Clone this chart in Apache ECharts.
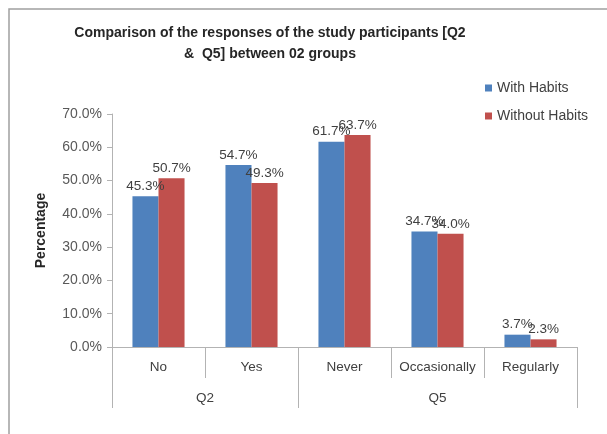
<!DOCTYPE html>
<html lang="en">
<head>
    <meta charset="UTF-8">
    <title>Comparison of responses</title>
    <style>
        html, body { margin: 0; padding: 0; background: #fff; }
    </style>
</head>
<body>
    <div id="main" style="width:607px; height:434px;"></div>
    <script src="https://cdn.jsdelivr.net/npm/echarts@6/dist/echarts.min.js"></script>
    <script>
        // categories and groups
        var categories = ['No', 'Yes', 'Never', 'Occasionally', 'Regularly'];
        var groupNames = ['Q2', 'Q5'];
        var groupSizes = [2, 3];
        // percentages
        var withHabits = [45.3, 54.7, 61.7, 34.7, 3.7];
        var withoutHabits = [50.7, 49.3, 63.7, 34.0, 2.3];
        var yTicks = [0, 10, 20, 30, 40, 50, 60, 70];

        // boundaries and centres of the groups on the 0..n scale
        var groupEdges = [0];
        var groupCentres = [];
        groupSizes.forEach(function (n, i) {
            var start = groupEdges[i];
            groupEdges.push(start + n);
            groupCentres.push(start + n / 2);
        });

        var font = 'Liberation Sans, Arial, sans-serif';
        var lineColor = '#b3b3b3';

        var myChart = echarts.init(document.getElementById('main'));
        myChart.setOption({
            animation: false,
            title: {
                text: 'Comparison of the responses of the study participants [Q2\n&  Q5] between 02 groups',
                left: 265,
                textAlign: 'center',
                top: 18,
                textStyle: {
                    fontFamily: font,
                    fontSize: 14,
                    fontWeight: 'bold',
                    color: '#262626',
                    lineHeight: 21
                }
            },
            legend: {
                orient: 'vertical',
                left: 480,
                top: 76,
                icon: 'rect',
                itemWidth: 7,
                itemHeight: 7,
                itemGap: 14,
                textStyle: { fontFamily: font, fontSize: 14, color: '#404040' },
                data: ['With Habits', 'Without Habits']
            },
            graphic: [{
                type: 'polyline',
                shape: { points: [[9, 440], [9, 9], [620, 9]] },
                style: { stroke: '#a0a0a0', lineWidth: 1.5, fill: null },
                silent: true
            }],
            grid: { left: 112, right: 30, top: 114, bottom: 87 },
            xAxis: [{
                type: 'category',
                data: categories,
                boundaryGap: true,
                axisLine: { lineStyle: { color: lineColor } },
                axisTick: { show: true, interval: 0, length: 31, lineStyle: { color: lineColor } },
                axisLabel: {
                    interval: 0, margin: 13,
                    fontFamily: font, fontSize: 13.5, color: '#404040'
                }
            }, {
                type: 'value',
                position: 'bottom',
                min: 0,
                max: categories.length,
                axisLine: { show: false },
                splitLine: { show: false },
                axisTick: {
                    show: true,
                    customValues: groupEdges,
                    length: 61,
                    lineStyle: { color: lineColor }
                },
                axisLabel: {
                    customValues: groupCentres,
                    margin: 44,
                    fontFamily: font, fontSize: 13.5, color: '#404040',
                    formatter: function (v) {
                        var i = groupCentres.indexOf(v);
                        return i >= 0 ? groupNames[i] : '';
                    }
                }
            }],
            yAxis: {
                type: 'value',
                min: yTicks[0],
                max: yTicks[yTicks.length - 1],
                interval: yTicks[1] - yTicks[0],
                name: 'Percentage',
                nameLocation: 'middle',
                nameGap: 64,
                nameTextStyle: { fontFamily: font, fontSize: 14, fontWeight: 'bold', color: '#262626' },
                axisLine: { show: true, lineStyle: { color: lineColor } },
                axisTick: { show: true, length: 5, lineStyle: { color: lineColor } },
                splitLine: { show: false },
                axisLabel: {
                    margin: 10,
                    fontFamily: font, fontSize: 14, color: '#595959',
                    formatter: function (v) { return v.toFixed(1) + '%'; }
                }
            },
            series: [{
                name: 'With Habits',
                type: 'bar',
                data: withHabits,
                barGap: '0%',
                barCategoryGap: '44%',
                itemStyle: { color: '#4f81bd' },
                label: {
                    show: true, position: 'top', distance: 3,
                    fontFamily: font, fontSize: 13.5, color: '#404040',
                    formatter: function (p) { return p.value.toFixed(1) + '%'; }
                }
            }, {
                name: 'Without Habits',
                type: 'bar',
                data: withoutHabits,
                itemStyle: { color: '#c0504d' },
                label: {
                    show: true, position: 'top', distance: 3,
                    fontFamily: font, fontSize: 13.5, color: '#404040',
                    formatter: function (p) { return p.value.toFixed(1) + '%'; }
                }
            }]
        });
    </script>
</body>
</html>
